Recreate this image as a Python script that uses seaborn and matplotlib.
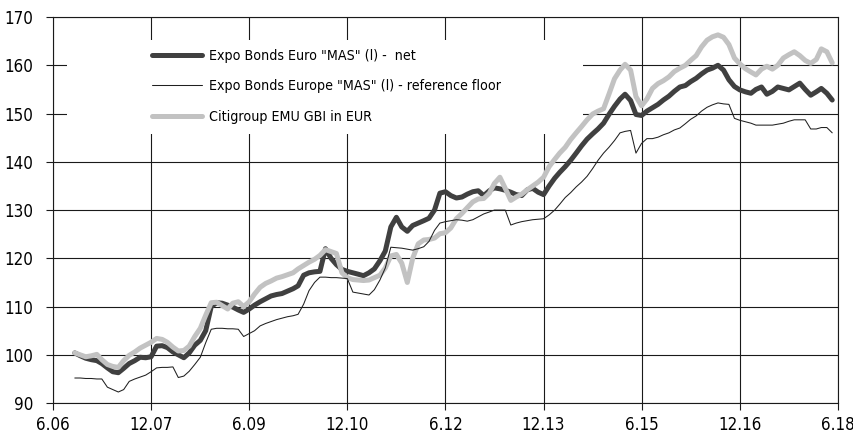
import numpy as np
import pandas as pd
import seaborn as sns
import matplotlib.pyplot as plt
from matplotlib.patches import Rectangle
from matplotlib.ticker import FuncFormatter
import matplotlib.dates as mdates

sns.set_theme(style="white")
plt.rcParams['font.family'] = ['DejaVu Sans']
plt.rcParams['font.stretch'] = 'condensed'

# monthly observations, Oct 2006 - May 2018
dates = pd.date_range("2006-10-01", "2018-05-01", freq="MS")

net = [100.4, 99.8, 99.3, 99.0, 98.8, 98.2, 97.3, 96.5, 96.3, 97.2,
       98.2, 98.8, 99.5, 99.4, 99.6, 101.8, 101.9, 101.5, 100.6, 100.0,
       99.4, 100.4, 102.0, 103.0, 105.0, 110.0, 110.8, 110.7, 110.3, 109.9,
       109.3, 108.8, 109.5, 110.3, 111.0, 111.6, 112.2, 112.5, 112.7, 113.2,
       113.7, 114.3, 116.5, 117.0, 117.2, 117.3, 122.0, 120.0, 118.7, 117.7,
       117.3, 117.0, 116.7, 116.4, 117.0, 117.8, 119.5, 121.5, 126.5, 128.5,
       126.5, 125.6, 126.8, 127.3, 127.8, 128.3, 130.0, 133.5, 133.8, 133.0,
       132.5, 132.7, 133.3, 133.8, 134.0, 133.0, 134.0, 134.6, 134.4, 134.1,
       133.7, 133.2, 133.0, 134.2, 134.5, 133.7, 133.2, 135.0, 136.6, 137.8,
       139.0, 140.3, 141.8, 143.3, 144.7, 145.8, 146.8, 148.0, 149.8, 151.5,
       153.0, 154.0, 152.7, 149.8, 149.6, 150.5, 151.2, 151.9, 152.8, 153.6,
       154.6, 155.5, 155.8, 156.6, 157.3, 158.2, 159.0, 159.4, 160.0, 159.0,
       157.0, 155.6, 154.9, 154.5, 154.2, 155.0, 155.5, 154.0, 154.6, 155.5,
       155.2, 154.9, 155.6, 156.3, 155.0, 153.8, 154.5, 155.2, 154.2, 152.8]

floor = [95.2, 95.2, 95.1, 95.1, 95.0, 95.0, 93.3, 92.8, 92.3, 92.8,
         94.5, 95.0, 95.4, 95.8, 96.5, 97.3, 97.4, 97.4, 97.5, 95.3,
         95.6, 96.6, 98.0, 99.5, 102.5, 105.3, 105.5, 105.5, 105.4, 105.4,
         105.3, 103.8, 104.4, 105.0, 106.0, 106.5, 106.9, 107.3, 107.6, 107.9,
         108.1, 108.4, 110.5, 113.3, 115.0, 116.1, 116.1, 116.0, 116.0, 115.9,
         115.8, 113.0, 112.8, 112.6, 112.4, 113.5, 115.5, 118.0, 122.3, 122.2,
         122.1, 121.9, 121.7, 122.0, 122.4, 123.5, 125.8, 127.3, 127.6, 127.8,
         128.0, 127.9, 127.7, 128.0, 128.6, 129.2, 129.6, 130.0, 130.0, 130.0,
         126.9, 127.3, 127.6, 127.8, 128.0, 128.1, 128.2, 129.0, 130.0, 131.2,
         132.6, 133.6, 134.8, 135.8, 137.0, 138.6, 140.3, 141.8, 143.0, 144.4,
         146.0, 146.3, 146.5, 141.8, 143.8, 144.8, 144.8, 145.1, 145.6, 146.0,
         146.6, 147.0, 147.9, 148.8, 149.5, 150.5, 151.3, 151.8, 152.2, 152.0,
         151.9, 149.0, 148.6, 148.3, 148.0, 147.6, 147.6, 147.6, 147.6, 147.8,
         148.0, 148.4, 148.7, 148.7, 148.7, 146.8, 146.8, 147.1, 147.1, 146.0]

citi = [100.4, 100.0, 99.6, 99.8, 100.1, 99.0, 98.0, 97.6, 97.4, 98.8,
        99.9, 100.6, 101.4, 102.0, 102.6, 103.4, 103.2, 102.6, 101.6, 100.8,
        100.9, 101.8, 103.8, 105.5, 108.2, 110.8, 110.9, 110.2, 109.5, 110.7,
        111.0, 110.0, 111.0, 112.6, 114.0, 114.8, 115.3, 115.9, 116.2, 116.6,
        117.0, 117.8, 118.5, 119.2, 119.8, 120.6, 121.8, 121.4, 121.0, 117.0,
        116.0, 115.6, 115.5, 115.4, 115.5, 116.0, 116.5, 118.0, 120.5, 120.8,
        119.0, 115.0, 120.0, 123.0, 123.8, 123.9, 124.2, 125.1, 125.3, 126.3,
        128.2, 129.3, 130.5, 131.7, 132.3, 132.4, 133.5, 135.5, 136.8, 134.5,
        132.0, 132.7, 133.3, 134.2, 135.0, 135.8, 136.8, 139.0, 140.5, 141.8,
        143.0, 144.6, 146.0, 147.3, 148.7, 149.9, 150.5, 151.0, 154.0, 157.2,
        159.0, 160.2, 159.0, 153.5, 151.6, 153.0, 155.2, 156.2, 156.8, 157.6,
        158.7, 159.4, 160.0, 161.0, 162.0, 163.8, 165.2, 165.9, 166.3, 165.8,
        164.3, 161.5, 160.3, 159.3, 158.6, 158.0, 159.2, 159.8, 159.2, 160.0,
        161.5, 162.2, 162.8, 162.0, 161.0, 160.4, 161.2, 163.4, 162.8, 160.5]

labels = ['Expo Bonds Euro "MAS" (l) -  net',
          'Expo Bonds Europe "MAS" (l) - reference floor',
          'Citigroup EMU GBI in EUR']

tick_dates = pd.date_range("2006-06-01", "2018-06-01", freq="18MS")

df = pd.DataFrame({"date": dates, "net": net, "floor": floor, "citi": citi})

fig = plt.figure(figsize=(8.54, 4.42), dpi=100)
ax = fig.add_axes([0.062, 0.088, 0.919, 0.8735])

sns.lineplot(data=df, x="date", y="net", ax=ax, color="#404040", lw=3.6,
             label=labels[0], zorder=3)
sns.lineplot(data=df, x="date", y="floor", ax=ax, color="#202020", lw=0.75,
             label=labels[1], zorder=5)
sns.lineplot(data=df, x="date", y="citi", ax=ax, color="#c2c2c2", lw=3.6,
             label=labels[2], zorder=4)

ax.set_xlim(tick_dates[0], tick_dates[-1])
ax.set_ylim(90, 170)
ax.set_yticks(np.arange(90, 171, 10))
ax.set_xticks(tick_dates)
ax.xaxis.set_major_formatter(FuncFormatter(
    lambda v, p: "{}.{}".format(mdates.num2date(v).month, mdates.num2date(v).strftime("%y"))))
ax.set_xlabel("")
ax.set_ylabel("")

ax.grid(True, color="#1a1a1a", lw=0.8)
ax.set_axisbelow(True)
for s in ax.spines.values():
    s.set_color("#1a1a1a")
    s.set_linewidth(0.8)
ax.tick_params(axis="both", direction="out", length=5, width=0.8, color="#1a1a1a",
               labelsize=12.2, labelcolor="black", left=True, bottom=True)
ax.tick_params(axis="y", pad=9)
ax.tick_params(axis="x", pad=4)

# white panel behind the legend
ax.add_patch(Rectangle((0.018, 0.697), 0.658, 0.243, transform=ax.transAxes,
                       facecolor="white", edgecolor="none", zorder=1))

leg = ax.legend(loc="upper left", bbox_to_anchor=(0.126, 0.918), frameon=False,
                fontsize=10.2, handlelength=3.55, handletextpad=0.5,
                labelspacing=1.18, borderpad=0, borderaxespad=0)
for t in leg.get_texts():
    t.set_color("black")

fig.savefig("out.png", dpi=100)
